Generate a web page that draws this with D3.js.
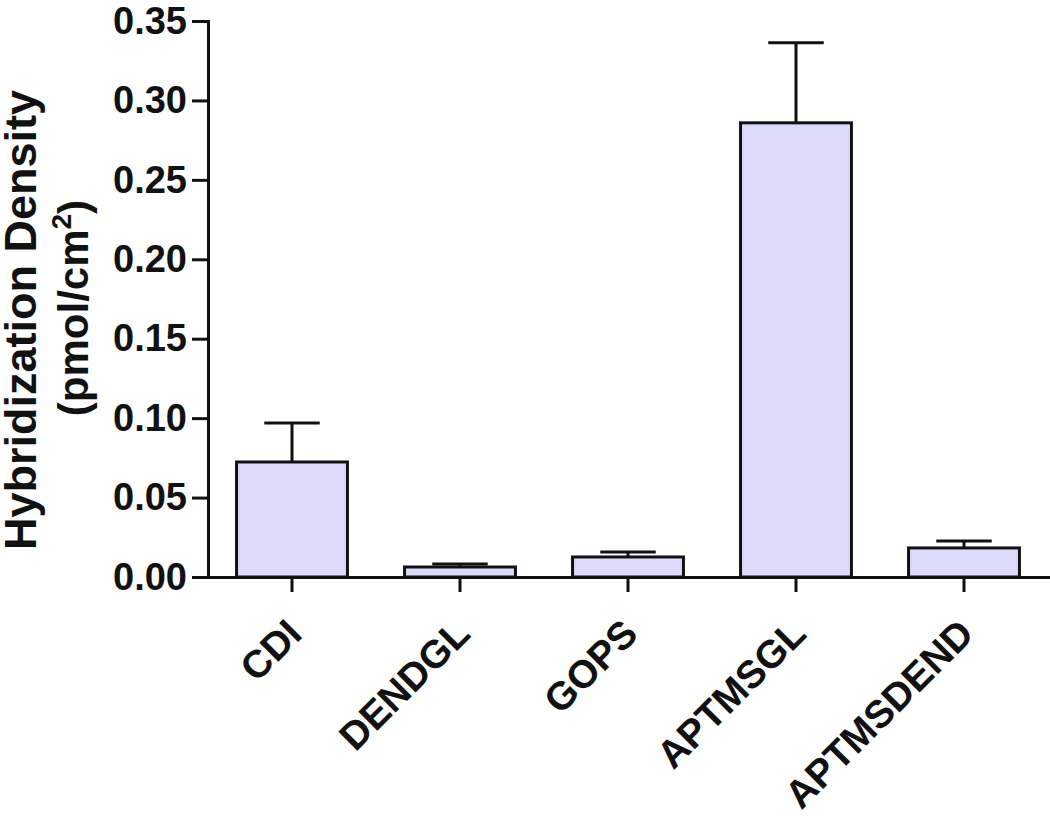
<!DOCTYPE html>
<html>
<head>
<meta charset="utf-8">
<script src="https://cdn.jsdelivr.net/npm/d3@7"></script>
<style>
    html, body { margin: 0; padding: 0; background: #fff; }
    #canvas { width: 1050px; height: 816px; }
    text { font-family: "Liberation Sans", Arial, Helvetica, sans-serif; font-weight: bold; fill: #111; }
</style>
</head>
<body>
<div id="canvas"></div>
<script>
/* Данные графика */
var categories = ['CDI', 'DENDGL', 'GOPS', 'APTMSGL', 'APTMSDEND'];
var means = [0.0724, 0.0063, 0.0126, 0.2859, 0.0183];
var errors = [0.0246, 0.0019, 0.0031, 0.0504, 0.0044];
var yTicks = [0, 0.05, 0.10, 0.15, 0.20, 0.25, 0.30, 0.35];

function init()
{
    var wrapper = d3.select('#canvas');
    var width = 1050;
    var height = 816;

    var canvas = wrapper.append('svg');
    canvas.attr('width', width)
          .attr('height', height);

    var plot = {'left': 208, 'right': 1048, 'top': 21, 'bottom': 577};

    var x = d3.scaleBand()
              .domain(categories)
              .range([plot.left, plot.right])
              .paddingInner(0.34)
              .paddingOuter(0.17);

    var y = d3.scaleLinear()
              .domain([0, 0.35])
              .range([plot.bottom, plot.top]);

    var rows = categories.map(function(c, i) {
        return {'name': c, 'mean': means[i], 'err': errors[i]};
    });

    /* Усы погрешностей (только вверх) */
    var whiskers = canvas.append('g').attr('class', 'whiskers');
    whiskers.selectAll('line.stem')
            .data(rows)
            .enter()
                .append('line')
                .attr('class', 'stem')
                .attr('x1', function(d) { return x(d.name) + x.bandwidth() / 2; })
                .attr('x2', function(d) { return x(d.name) + x.bandwidth() / 2; })
                .attr('y1', function(d) { return y(d.mean); })
                .attr('y2', function(d) { return y(d.mean + d.err); })
                .attr('stroke', '#111')
                .attr('stroke-width', 3);

    whiskers.selectAll('line.cap')
            .data(rows)
            .enter()
                .append('line')
                .attr('class', 'cap')
                .attr('x1', function(d) { return x(d.name) + x.bandwidth() / 4; })
                .attr('x2', function(d) { return x(d.name) + x.bandwidth() * 3 / 4; })
                .attr('y1', function(d) { return y(d.mean + d.err); })
                .attr('y2', function(d) { return y(d.mean + d.err); })
                .attr('stroke', '#111')
                .attr('stroke-width', 3);

    /* Столбцы */
    canvas.append('g')
          .selectAll('rect')
          .data(rows)
          .enter()
              .append('rect')
              .attr('x', function(d) { return x(d.name); })
              .attr('y', function(d) { return y(d.mean); })
              .attr('width', x.bandwidth())
              .attr('height', function(d) { return y(0) - y(d.mean); })
              .attr('fill', '#dcdcfa')
              .attr('stroke', '#111')
              .attr('stroke-width', 3);

    /* Ось Y */
    var yAxis = canvas.append('g');
    yAxis.attr('transform', 'translate(' + plot.left + ',0)')
         .call(d3.axisLeft(y)
                 .tickValues(yTicks)
                 .tickFormat(d3.format('.2f'))
                 .tickSize(16)
                 .tickPadding(5)
                 .tickSizeOuter(0));

    /* Ось X */
    var xAxis = canvas.append('g');
    xAxis.attr('transform', 'translate(0,' + plot.bottom + ')')
         .call(d3.axisBottom(x)
                 .tickSize(15)
                 .tickSizeOuter(0));

    canvas.selectAll('.domain, .tick line')
          .attr('stroke', '#111')
          .attr('stroke-width', 3);

    yAxis.selectAll('text')
         .attr('font-size', 38)
         .attr('font-family', null)
         .attr('fill', '#111');

    xAxis.selectAll('.tick text')
         .attr('font-size', 39)
         .attr('font-family', null)
         .attr('fill', '#111')
         .attr('text-anchor', 'end')
         .attr('y', 0)
         .attr('dy', 0)
         .attr('transform', 'translate(12, 59) rotate(-45)');

    canvas.selectAll('.domain').attr('stroke-linecap', 'square');

    /* Подпись оси Y в две строки */
    var title = canvas.append('g');
    title.attr('transform', 'translate(36, 320) rotate(-90)');

    title.append('text')
         .attr('text-anchor', 'middle')
         .attr('font-size', 45)
         .text('Hybridization Density');

    var unit = title.append('text');
    unit.attr('text-anchor', 'middle')
        .attr('x', 12)
        .attr('y', 52)
        .attr('font-size', 42);
    unit.append('tspan').text('(pmol/cm');
    unit.append('tspan')
        .attr('font-size', 28)
        .attr('dy', -17)
        .text('2');
    unit.append('tspan')
        .attr('dy', 17)
        .text(')');
}

init();
</script>
</body>
</html>
